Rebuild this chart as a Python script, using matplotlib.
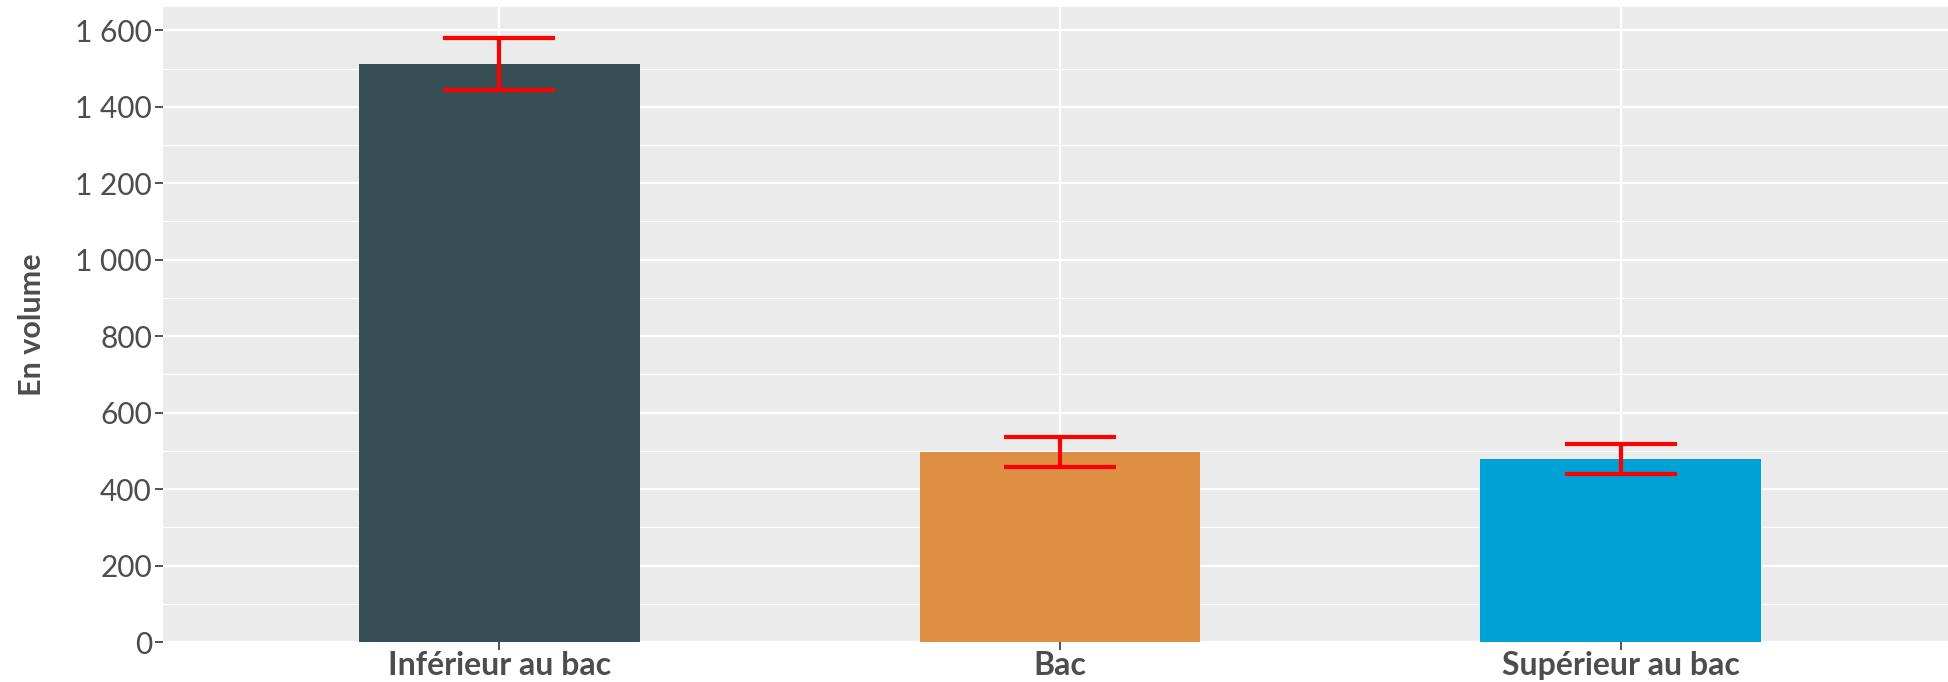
import matplotlib
matplotlib.use("Agg")
import matplotlib.pyplot as plt
from matplotlib.ticker import FuncFormatter, MultipleLocator

categories = ["Inférieur au bac", "Bac", "Supérieur au bac"]
values = [1513, 498, 479]
errors = [68, 39, 39]
colors = ["#374E55", "#DF8F44", "#00A1D5"]
y_ticks = [0, 200, 400, 600, 800, 1000, 1200, 1400, 1600]

plt.rcParams['font.family'] = ['Lato', 'DejaVu Sans']

fig = plt.figure(figsize=(19.49, 6.82), dpi=100)
ax = fig.add_axes([163/1949, 40/682, 1794/1949, 635/682])
ax.set_facecolor("#EBEBEB")

x = list(range(1, len(categories) + 1))
ax.bar(x, values, width=0.5, color=colors, zorder=2)
ax.errorbar(x, values, yerr=errors, fmt='none', ecolor='#FF0000',
            elinewidth=3, capsize=40, capthick=3, zorder=3)

ax.set_xlim(0.4, 3.6)
ax.set_ylim(0, 1661)
ax.set_xticks(x)
ax.set_xticklabels(categories, fontsize=23, fontweight='bold', color='#4D4D4D')
ax.set_yticks(y_ticks)
ax.yaxis.set_minor_locator(MultipleLocator(100))
ax.yaxis.set_major_formatter(FuncFormatter(lambda v, p: f"{int(v):,}".replace(",", " ")))
ax.tick_params(axis='y', labelsize=21.5, labelcolor='#4D4D4D', color='#333333',
               length=6, width=1.2, pad=2)
ax.tick_params(axis='x', color='#333333', length=6, width=1.2, pad=0.5)
ax.tick_params(axis='y', which='minor', length=0)

ax.grid(True, which='major', color='white', linewidth=1.6, zorder=0)
ax.grid(True, which='minor', axis='y', color='white', linewidth=0.9, zorder=0)
ax.set_axisbelow(True)
for s in ax.spines.values():
    s.set_visible(False)

ax.set_ylabel("En volume", fontsize=22, fontweight='bold', color='#4D4D4D')
ax.yaxis.label.set_va('center')
ax.yaxis.set_label_coords((32 - 163) / 1794, 0.5)

fig.savefig("out.png", dpi=100)
